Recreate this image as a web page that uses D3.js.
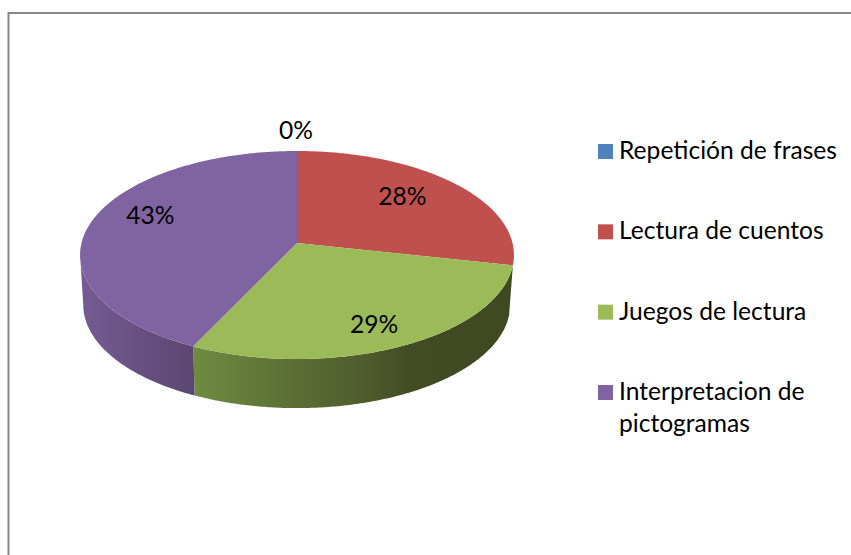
<!DOCTYPE html>
<html><head><meta charset="utf-8">
<script src="https://cdnjs.cloudflare.com/ajax/libs/d3/7.8.5/d3.min.js"></script>
<style>html,body{margin:0;padding:0;background:#fff}svg{display:block}text{font-family:Lato,Carlito,Calibri,sans-serif;fill:#000}</style>
</head><body><svg id="c" width="851" height="555"></svg>
<script>
// data
const categories = ["Repetición de frases","Lectura de cuentos","Juegos de lectura","Interpretacion de pictogramas"];
const values = [0, 28.4, 28.7, 42.9];
const colors = ["#4f81bd","#c0504d","#9bbb59","#8064a2"];

// layout
const W=851,H=555, FS=24.6;
const labelNudge = [[-1,0],[-14,0],[0,7],[8,-10]];
const svg=d3.select("#c");

// frame
svg.append("path").attr("d",d3.line()([[8.5,H],[8.5,13],[W,13]])).attr("fill","none").attr("stroke","#888888").attr("stroke-width",2);

// perspective projection of the unit disc
const persp=0.1154;
const proj=(cx,d,a,b)=>(th,r=1)=>{const X=r*Math.sin(th),Y=r*Math.cos(th),w=1+persp*Y;return [cx+d*X/w,(a*Y+b)/w];};
const topP=proj(297,215.5,-74.6,243), botP=proj(296.7,212,-68,293);

const pie=d3.pie().sort(null).value(d=>d)(values);
const line=d3.line();
const samples=(a0,a1)=>{const n=Math.max(2,Math.ceil((a1-a0)/0.01));return d3.range(n+1).map(i=>a0+(a1-a0)*i/n);};

const defs=svg.append("defs");
const wallStops=[null,null,
 [[0,"#6f8c42"],[.25,"#5f7437"],[.5,"#525f2e"],[.68,"#414c24"],[1,"#3e4922"]],
 [[0,"#5b4672"],[1,"#755b92"]]];
const extents=[null,null,[192,514],[80,194]];
wallStops.forEach((s,i)=>{ if(!s)return;
 const g=defs.append("linearGradient").attr("id","w"+i).attr("gradientUnits","userSpaceOnUse")
  .attr("x1",i===3?extents[i][1]:extents[i][0]).attr("x2",i===3?extents[i][0]:extents[i][1]).attr("y1",0).attr("y2",0);
 s.forEach(p=>g.append("stop").attr("offset",p[0]).attr("stop-color",p[1]));
});

// side walls (front half only)
const vis0=Math.PI/2+Math.asin(persp), vis1=2*Math.PI-vis0;
pie.forEach((p,i)=>{
 const a0=Math.max(p.startAngle,vis0), a1=Math.min(p.endAngle,vis1);
 if(a1<=a0||!wallStops[i])return;
 const t=samples(a0,a1);
 svg.append("path").attr("d",line(t.map(a=>topP(a)).concat(t.slice().reverse().map(a=>botP(a))))+"Z").attr("fill",`url(#w${i})`);
});

// top faces
pie.forEach((p,i)=>{
 if(p.endAngle-p.startAngle<=0)return;
 const pts=[topP(0,0)].concat(samples(p.startAngle,p.endAngle).map(a=>topP(a)));
 svg.append("path").attr("d",line(pts)+"Z").attr("fill",colors[i]);
});

// data labels
const pct=d3.format(".0f");
pie.forEach((p,i)=>{
 const mid=(p.startAngle+p.endAngle)/2;
 const r=p.value===0?1:0.75;
 const q=topP(mid,r);
 const n=labelNudge[i];
 svg.append("text").attr("x",q[0]+n[0]).attr("y",q[1]+n[1]+(p.value===0?-12:8)).attr("text-anchor","middle").attr("font-size",FS)
  .text(pct(p.value)+"%");
});

// legend
const ly=d3.scaleLinear().domain([0,3]).range([144,385]);
const wrapped=[["Repetición de frases"],["Lectura de cuentos"],["Juegos de lectura"],["Interpretacion de","pictogramas"]];
categories.forEach((c,i)=>{
 const y=ly(i);
 svg.append("rect").attr("x",598).attr("y",y).attr("width",15).attr("height",15).attr("fill",colors[i]);
 const t=svg.append("text").attr("font-size",FS);
 wrapped[i].forEach((s,j)=>t.append("tspan").attr("x",619).attr("y",y+15+j*32).text(s));
});
</script></body></html>
